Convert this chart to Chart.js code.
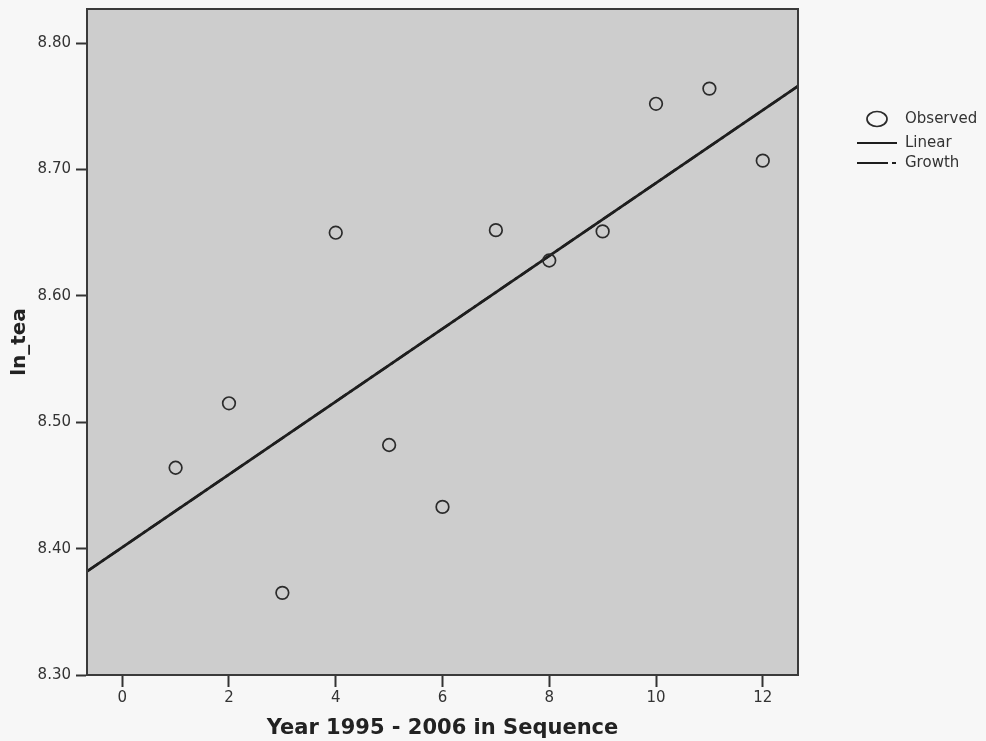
<!DOCTYPE html>
<html>
<head>
<meta charset="utf-8">
<title>ln_tea scatter</title>
<script src="https://cdn.jsdelivr.net/npm/chart.js@4.4.1/dist/chart.umd.min.js"></script>
<style>
    html, body { margin: 0; padding: 0; background: #f7f7f7; }
    #wrap { width: 986px; height: 741px; }
</style>
</head>
<body>
<div id="wrap"><canvas id="chart" width="986" height="741"></canvas></div>
<script>
// observed points (year index 1..12 = 1995..2006)
const years = [1, 2, 3, 4, 5, 6, 7, 8, 9, 10, 11, 12];
const lnTea = [8.464, 8.515, 8.365, 8.650, 8.482, 8.433, 8.652, 8.628, 8.651, 8.752, 8.764, 8.707];

// fitted lines, read at the left and right edge of the plot
const fitX = [-0.66, 12.66];
const linearY = [8.382, 8.766];
const growthY = [8.382, 8.766];

// tick labels
const xTicks = [0, 2, 4, 6, 8, 10, 12];
const yTicks = [8.30, 8.40, 8.50, 8.60, 8.70, 8.80];

const legendLabels = ['Observed', 'Linear', 'Growth'];

const ink = '#2b2b2b';
const tickFont = { family: 'DejaVu Sans', size: 15 };

function toPoints(xs, ys) {
    return xs.map((x, i) => ({ x: x, y: ys[i] }));
}

//----------------------------------------------
// plot background + frame
//----------------------------------------------
const framePlugin = {
    id: 'frame',
    beforeDraw(chart) {
        const a = chart.chartArea;
        const ctx = chart.ctx;
        ctx.save();
        ctx.fillStyle = '#cdcdcd';
        ctx.fillRect(a.left, a.top, a.right - a.left, a.bottom - a.top);
        ctx.restore();
    },
    afterDatasetsDraw(chart) {
        const a = chart.chartArea;
        const ctx = chart.ctx;
        ctx.save();
        ctx.strokeStyle = '#3a3a3a';
        ctx.lineWidth = 2;
        ctx.strokeRect(a.left, a.top, a.right - a.left, a.bottom - a.top);
        ctx.restore();
    }
};

//----------------------------------------------
// legend on the right, SPSS style
//----------------------------------------------
const legendPlugin = {
    id: 'spssLegend',
    afterDraw(chart) {
        const ctx = chart.ctx;
        const ds = chart.data.datasets;
        const lx = chart.chartArea.right + 59;
        const tx = chart.chartArea.right + 107;
        const rows = [119, 143, 163];
        ctx.save();
        ctx.font = '15px "DejaVu Sans"';
        ctx.fillStyle = '#333';
        ctx.textBaseline = 'middle';

        // Observed
        ctx.strokeStyle = ds[0].borderColor;
        ctx.lineWidth = 1.7;
        ctx.beginPath();
        ctx.ellipse(lx + 20, rows[0], 10, 7.5, 0, 0, Math.PI * 2);
        ctx.stroke();
        // Linear
        ctx.strokeStyle = ds[1].borderColor;
        ctx.lineWidth = 2;
        ctx.beginPath();
        ctx.moveTo(lx, rows[1]);
        ctx.lineTo(lx + 40, rows[1]);
        ctx.stroke();
        // Growth
        ctx.strokeStyle = ds[2].borderColor;
        ctx.beginPath();
        ctx.moveTo(lx, rows[2]);
        ctx.lineTo(lx + 31, rows[2]);
        ctx.moveTo(lx + 35, rows[2]);
        ctx.lineTo(lx + 39, rows[2]);
        ctx.stroke();

        for (let i = 0; i < legendLabels.length; i++) {
            ctx.fillText(legendLabels[i], tx, rows[i]);
        }
        ctx.restore();
    }
};

const ctx = document.getElementById('chart').getContext('2d');
const chart = new Chart(ctx, {
    type: 'scatter',
    data: {
        datasets: [{
            label: 'Observed',
            data: toPoints(years, lnTea),
            pointStyle: 'circle',
            pointRadius: 6.3,
            pointBorderWidth: 1.7,
            borderColor: ink,
            backgroundColor: 'rgba(0,0,0,0)',
            showLine: false,
            order: 0
        }, {
            label: 'Linear',
            data: toPoints(fitX, linearY),
            showLine: true,
            borderColor: '#1e1e1e',
            borderWidth: 2.8,
            pointRadius: 0,
            order: 2
        }, {
            label: 'Growth',
            data: toPoints(fitX, growthY),
            showLine: true,
            borderColor: '#1e1e1e',
            borderWidth: 2.4,
            borderDash: [14, 4, 3, 4],
            pointRadius: 0,
            order: 1
        }]
    },
    options: {
        responsive: false,
        animation: false,
        events: [],
        layout: {
            padding: { left: 0, top: 9, right: 188, bottom: 0 }
        },
        plugins: {
            legend: { display: false },
            tooltip: { enabled: false }
        },
        scales: {
            x: {
                type: 'linear',
                min: -0.66,
                max: 12.66,
                afterBuildTicks(scale) {
                    scale.ticks = xTicks.map(v => ({ value: v }));
                },
                afterFit(scale) {
                    scale.height = 66;
                    scale.paddingLeft = 0;
                    scale.paddingRight = 0;
                },
                grid: {
                    drawOnChartArea: false,
                    drawTicks: true,
                    tickLength: 12,
                    tickColor: '#333',
                    tickWidth: 2
                },
                border: { display: true, color: '#3a3a3a', width: 2 },
                ticks: {
                    color: '#333',
                    font: tickFont,
                    padding: 2,
                    maxRotation: 0,
                    callback: v => String(v)
                },
                title: {
                    display: true,
                    text: 'Year 1995 - 2006 in Sequence',
                    color: '#222',
                    font: { family: 'DejaVu Sans', size: 21, weight: 'bold' },
                    padding: { top: 0, bottom: 0 }
                }
            },
            y: {
                type: 'linear',
                min: 8.30,
                max: 8.827,
                afterBuildTicks(scale) {
                    scale.ticks = yTicks.map(v => ({ value: v }));
                },
                afterFit(scale) {
                    scale.width = 87;
                    scale.paddingTop = 0;
                    scale.paddingBottom = 0;
                },
                grid: {
                    drawOnChartArea: false,
                    drawTicks: true,
                    tickLength: 11,
                    tickColor: '#333',
                    tickWidth: 2
                },
                border: { display: true, color: '#3a3a3a', width: 2 },
                ticks: {
                    color: '#333',
                    font: tickFont,
                    padding: 5,
                    callback: v => Number(v).toFixed(2)
                },
                title: {
                    display: true,
                    text: 'ln_tea',
                    color: '#222',
                    font: { family: 'DejaVu Sans', size: 20, weight: 'bold' },
                    padding: { top: 8, bottom: 0 }
                }
            }
        }
    },
    plugins: [framePlugin, legendPlugin]
});
</script>
</body>
</html>
